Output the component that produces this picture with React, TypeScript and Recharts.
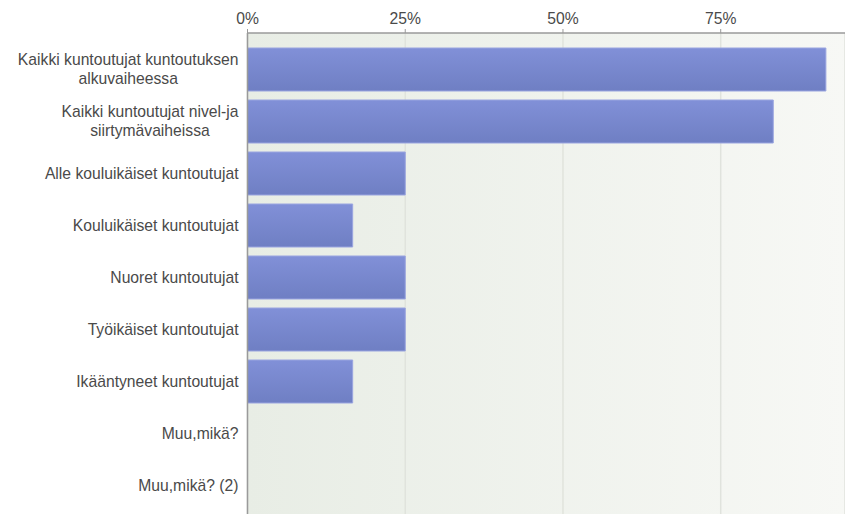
import React from "react";
import { BarChart, Bar, XAxis, YAxis, CartesianGrid } from "recharts";

const categories = [
  "Kaikki kuntoutujat kuntoutuksen alkuvaiheessa",
  "Kaikki kuntoutujat nivel-ja siirtymävaiheissa",
  "Alle kouluikäiset kuntoutujat",
  "Kouluikäiset kuntoutujat",
  "Nuoret kuntoutujat",
  "Työikäiset kuntoutujat",
  "Ikääntyneet kuntoutujat",
  "Muu,mikä?",
  "Muu,mikä? (2)",
];
const shares = [0.9167, 0.8333, 0.25, 0.1667, 0.25, 0.25, 0.1667, 0, 0];
const xTicks = [0, 0.25, 0.5, 0.75];

const data = categories.map((name, i) => ({ name, value: shares[i] }));

const FONT = "'Liberation Sans', Arial, sans-serif";
const FONT_SIZE = 15.7;
const TEXT = "#4a4a4a";

let ctx: CanvasRenderingContext2D | null = null;
function measure(s: string) {
  if (!ctx) ctx = document.createElement("canvas").getContext("2d");
  if (!ctx) return s.length * 7.5;
  ctx.font = `${FONT_SIZE}px ${FONT}`;
  return ctx.measureText(s).width;
}

// greedy word wrap for long category names
function wrap(label: string, maxWidth: number) {
  const words = label.split(" ");
  const lines: string[] = [];
  let cur = "";
  words.forEach((w) => {
    const next = cur ? cur + " " + w : w;
    if (cur && measure(next) > maxWidth) {
      lines.push(cur);
      cur = w;
    } else cur = next;
  });
  if (cur) lines.push(cur);
  return lines;
}

function CategoryTick(props: any) {
  const { x, y, payload } = props;
  const lines = wrap(payload.value, 228);
  const widest = Math.max(...lines.map(measure));
  const right = x - 1;
  const lh = 19;
  const first = y + 5.8 - ((lines.length - 1) * lh) / 2;
  if (lines.length === 1) {
    return (
      <text x={right} y={first} textAnchor="end" fill={TEXT} fontSize={FONT_SIZE} fontFamily={FONT}>
        {lines[0]}
      </text>
    );
  }
  const cx = right - widest / 2;
  return (
    <g>
      {lines.map((l, i) => (
        <text key={i} x={cx} y={first + i * lh} textAnchor="middle" fill={TEXT} fontSize={FONT_SIZE} fontFamily={FONT}>
          {l}
        </text>
      ))}
    </g>
  );
}

export default function App() {
  return (
    <div style={{ position: "absolute", left: 0, top: 0, width: 845, height: 514, background: "#fff" }}>
      <BarChart
        width={845}
        height={514}
        data={data}
        layout="vertical"
        margin={{ top: 0, right: 0, bottom: 0, left: 0 }}
      >
        <defs>
          <linearGradient id="plotBg" x1="0" y1="0" x2="1" y2="0">
            <stop offset="0%" stopColor="#e8ede5" />
            <stop offset="100%" stopColor="#f7f8f5" />
          </linearGradient>
          <linearGradient id="barFill" x1="0" y1="0" x2="0" y2="1">
            <stop offset="0%" stopColor="#8190d8" />
            <stop offset="100%" stopColor="#6f7fc3" />
          </linearGradient>
        </defs>
        <CartesianGrid
          horizontal={false}
          vertical
          fill="url(#plotBg)"
          stroke="#e0e3dd"
          strokeWidth={1.5}
        />
        <XAxis
          type="number"
          orientation="top"
          domain={[0, 0.947]}
          ticks={xTicks}
          tickFormatter={(v: number) => `${Math.round(v * 100)}%`}
          height={33}
          tickSize={4}
          tickMargin={5}
          axisLine={{ stroke: "#9a9a9a", strokeWidth: 1.5 }}
          tickLine={{ stroke: "#9a9a9a" }}
          tick={{ fill: TEXT, fontSize: FONT_SIZE, fontFamily: FONT }}
        />
        <YAxis
          type="category"
          dataKey="name"
          width={247.5}
          padding={{ top: 10, bottom: 3 }}
          tickLine={false}
          axisLine={{ stroke: "#9a9a9a", strokeWidth: 1.5 }}
          tickMargin={2}
          tick={<CategoryTick />}
          interval={0}
        />
        <Bar
          dataKey="value"
          barSize={43}
          fill="url(#barFill)"
          stroke="#9aa5e0"
          strokeWidth={1}
          isAnimationActive={false}
        />
      </BarChart>
    </div>
  );
}
